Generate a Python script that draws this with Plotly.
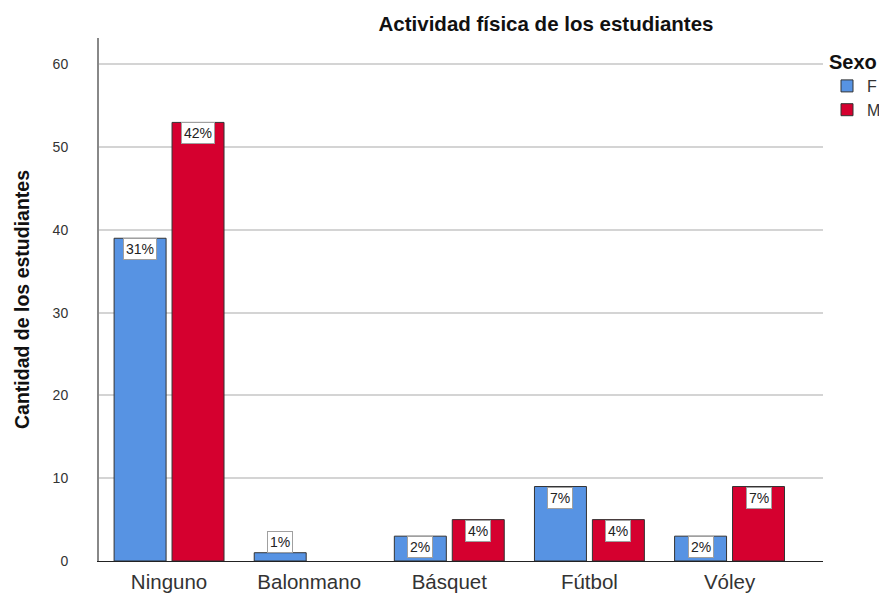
import plotly.graph_objects as go

categories = ["Ninguno", "Balonmano", "Básquet", "Fútbol", "Vóley"]
f_values = [39, 1, 3, 9, 3]
m_values = [53, None, 5, 5, 9]
f_pct = ["31%", "1%", "2%", "7%", "2%"]
m_pct = ["42%", "", "4%", "4%", "7%"]
y_ticks = [0, 10, 20, 30, 40, 50, 60]

# page body has an 8px margin; compensate so the plot lands where the reference has it
PAD = 8
W, H = 887 - PAD, 593 - PAD
ML, MR, MT, MB = 99 - PAD, 64, 38 - PAD, 32
plot_w = W - ML - MR
plot_h = H - MT - MB
x_range = [-0.5, 4.667]
bargap = 0.173
groupgap = 0.103
slot = plot_w / (x_range[1] - x_range[0])
group_w = slot * (1 - bargap)
bar_off = group_w / 4

BLUE = "#5793E3"
RED = "#D5002F"
FONT = "Liberation Sans, Arial"

fig = go.Figure()
fig.add_trace(go.Bar(x=categories, y=f_values, name="F", marker=dict(color=BLUE, line=dict(color="#333333", width=1))))
fig.add_trace(go.Bar(x=categories, y=m_values, name="M", marker=dict(color=RED, line=dict(color="#333333", width=1))))

def add_labels(vals, pcts, shift):
    for c, v, p in zip(categories, vals, pcts):
        if not p or v is None:
            continue
        small = v < 2
        fig.add_annotation(
            x=c, y=v, xref="x", yref="y", text=p, showarrow=False,
            xshift=shift, yshift=0,
            yanchor=("bottom" if small else "top"),
            bgcolor="white", bordercolor="#a0a0a0", borderwidth=1, borderpad=2,
            font=dict(family=FONT, size=14, color="#222"),
        )

add_labels(f_values, f_pct, -bar_off)
add_labels(m_values, m_pct, bar_off)

fig.update_layout(
    width=W, height=H,
    margin=dict(l=ML, r=MR, t=MT, b=MB, autoexpand=False),
    plot_bgcolor="white", paper_bgcolor="white",
    barmode="group", bargap=bargap, bargroupgap=groupgap,
    font=dict(family=FONT, color="#333"),
    title=dict(text="<b>Actividad física de los estudiantes</b>", x=(546 - 99) / plot_w, xref="paper", xanchor="center",
               y=1 - (24 - PAD) / H, yref="container", yanchor="middle",
               font=dict(size=20.5, color="#111")),
    legend=dict(title=dict(text="<b>Sexo</b>", font=dict(size=20, color="#111")),
                x=(827 - 99) / plot_w, xanchor="left", y=1 - 5 / plot_h, yanchor="top",
                font=dict(size=16, color="#333"), itemwidth=30, tracegroupgap=0),
    showlegend=True,
)
fig.update_xaxes(range=x_range, showline=True, linecolor="#222", linewidth=1, showgrid=False, automargin=False,
                 tickfont=dict(size=20.5, color="#333"), ticks="", ticklabelstandoff=2)
fig.update_yaxes(range=[0, 63.2], tickvals=y_ticks, showline=True, linecolor="#888", linewidth=2,
                 showgrid=True, gridcolor="#d4d4d4", gridwidth=2, zeroline=False, automargin=False,
                 tickfont=dict(size=14, color="#333"), ticks="", ticklabelstandoff=26,
                 title=dict(text="<b>Cantidad de los estudiantes</b>", font=dict(size=19.5, color="#111"), standoff=18))

fig.write_html("out.html")
